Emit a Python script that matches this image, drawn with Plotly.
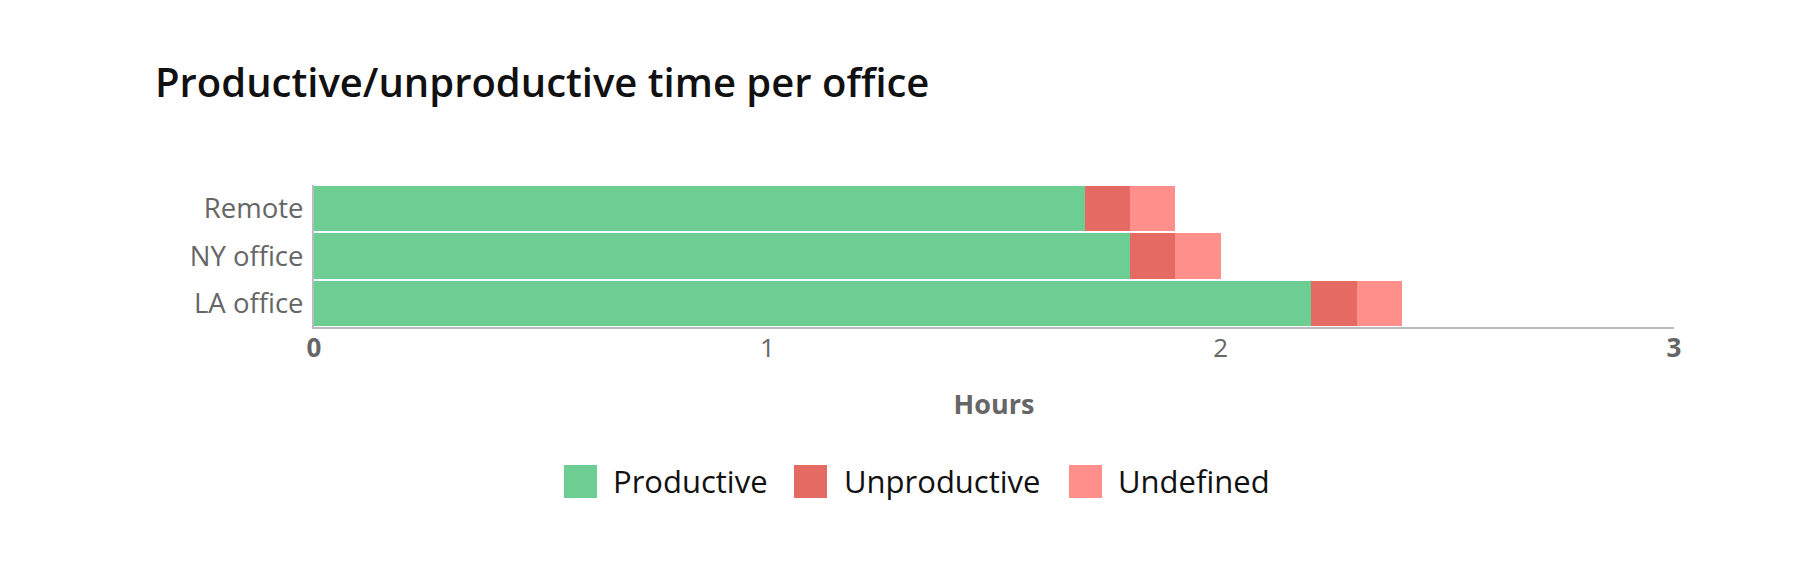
import plotly.graph_objects as go

categories = ["Remote", "NY office", "LA office"]
productive = [1.7, 1.8, 2.2]
unproductive = [0.1, 0.1, 0.1]
undefined = [0.1, 0.1, 0.1]
series_names = ["Productive", "Unproductive", "Undefined"]
colors = ["#6dce94", "#e56a64", "#fe8f8a"]
x_ticks = [0, 1, 2, 3]
x_ticktext = ["<b>0</b>", "1", "2", "<b>3</b>"]

W, H = 1800, 585
L, R, T, B = 314, 126, 185, 258

fig = go.Figure()
for name, vals, col in zip(series_names, [productive, unproductive, undefined], colors):
    fig.add_trace(go.Bar(
        y=categories, x=vals, name=name, orientation="h",
        marker=dict(color=col, line=dict(width=0)), showlegend=False,
    ))

fig.update_layout(
    width=W, height=H,
    margin=dict(l=L, r=R, t=T, b=B, pad=0),
    barmode="stack", bargap=0.045,
    plot_bgcolor="white", paper_bgcolor="white",
    font=dict(family="Open Sans", color="#666666"),
    title=dict(
        text="Productive/unproductive time per office",
        x=155 / W, xanchor="left", xref="container",
        y=1 - 83 / H, yanchor="middle", yref="container",
        font=dict(family="Open Sans", size=40, color="#111111", weight=600),
    ),
    xaxis=dict(
        range=[0, 3], tickvals=x_ticks, ticktext=x_ticktext,
        showgrid=False, zeroline=False,
        showline=True, linecolor="#bbbbbb", linewidth=2,
        ticks="", ticklabelstandoff=-3, tickfont=dict(size=26, color="#666666"),
        title=dict(text="<b>Hours</b>", font=dict(size=27, color="#666666"), standoff=31),
    ),
    yaxis=dict(
        autorange="reversed", showgrid=False, zeroline=False,
        showline=True, linecolor="#bbbbbb", linewidth=2,
        ticks="", ticklabelstandoff=3, tickfont=dict(size=27.5, color="#666666"),
    ),
)

# custom legend with large swatches
pw, ph = W - L - R, H - T - B
def px2x(px):
    return (px - L) / pw
def py2y(py):
    return (H - B - py) / ph

sw_x = [564, 794, 1069]
txt_x = [611, 842, 1116]
for sx, tx, name, col in zip(sw_x, txt_x, series_names, colors):
    fig.add_shape(type="rect", xref="paper", yref="paper",
                  x0=px2x(sx), x1=px2x(sx + 33), y0=py2y(498), y1=py2y(465),
                  fillcolor=col, line=dict(width=0))
    fig.add_annotation(text=name, xref="paper", yref="paper",
                       x=px2x(tx), y=py2y(481), xanchor="left", yanchor="middle",
                       showarrow=False, font=dict(family="Open Sans", size=31, color="#111111"))

fig.write_html("out.html")
